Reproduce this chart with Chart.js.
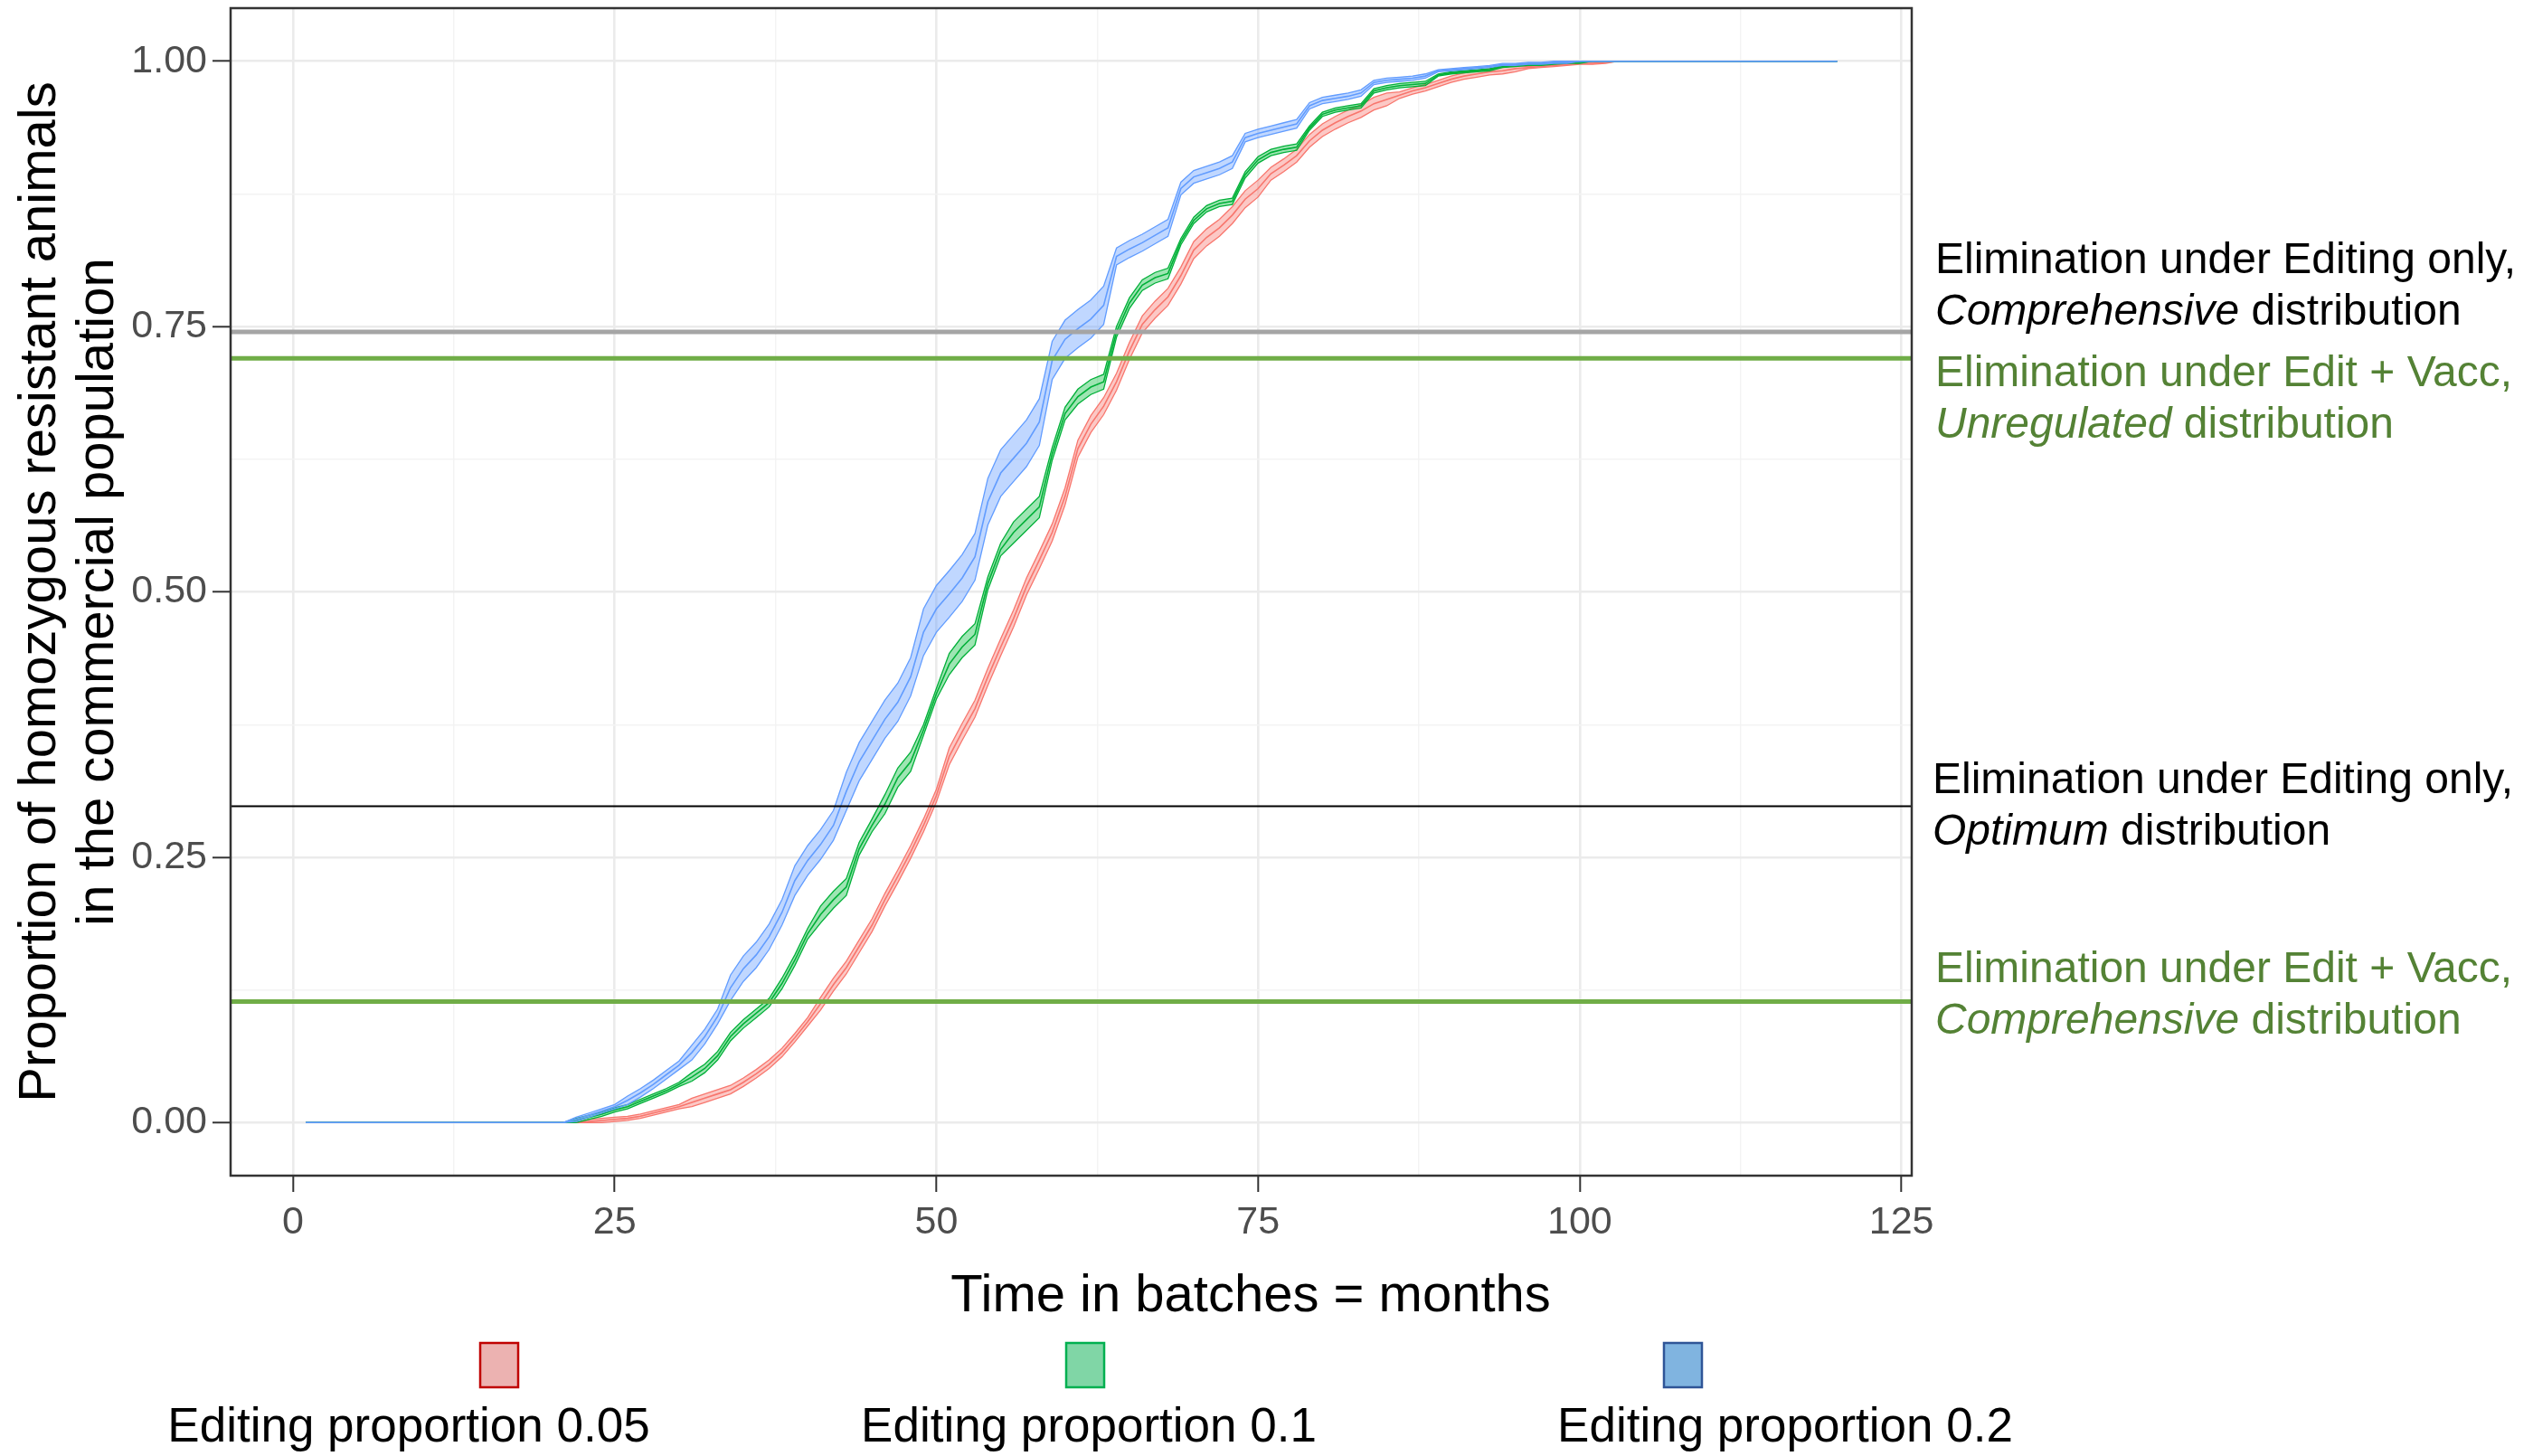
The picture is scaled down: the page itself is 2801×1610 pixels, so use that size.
<!DOCTYPE html>
<html>
<head>
<meta charset="utf-8">
<script src="https://cdn.jsdelivr.net/npm/chart.js@4.4.1/dist/chart.umd.min.js"></script>
<style>
html,body{margin:0;padding:0;background:#ffffff;}
canvas{display:block;}
</style>
</head>
<body>
<canvas id="chart" width="2801" height="1610" style="width:2801px;height:1610px"></canvas>
<script>
// ---------------- DATA ----------------
const batches = [1,
 20,21,22,23,24,25,26,27,28,29,
 30,31,32,33,34,35,36,37,38,39,
 40,41,42,43,44,45,46,47,48,49,
 50,51,52,53,54,55,56,57,58,59,
 60,61,62,63,64,65,66,67,68,69,
 70,71,72,73,74,75,76,77,78,79,
 80,81,82,83,84,85,86,87,88,89,
 90,91,92,93,94,95,96,97,98,99,
 100,101,102,103,104,
 120];

// Editing proportion 0.2 (blue)
const blueMean = [0,
 0,0,0.003,0.007,0.011,0.015,0.021,0.028,0.036,0.045,
 0.054,0.066,0.081,0.100,0.127,0.145,0.158,0.175,0.198,0.228,
 0.247,0.262,0.280,0.312,0.340,0.360,0.380,0.396,0.420,0.462,
 0.484,0.498,0.513,0.533,0.585,0.612,0.626,0.640,0.660,0.718,
 0.738,0.748,0.757,0.770,0.816,0.823,0.829,0.836,0.843,0.880,
 0.891,0.895,0.899,0.905,0.928,0.932,0.935,0.938,0.941,0.958,
 0.963,0.965,0.967,0.970,0.980,0.982,0.983,0.984,0.986,0.991,
 0.992,0.993,0.994,0.995,0.997,0.997,0.998,0.998,0.999,0.999,
 1,1,1,1,1,
 1];
const blueLow = [0,
 0,0,0.001,0.005,0.009,0.013,0.017,0.024,0.032,0.041,
 0.050,0.059,0.074,0.093,0.115,0.133,0.146,0.163,0.186,0.214,
 0.233,0.248,0.266,0.294,0.322,0.342,0.362,0.378,0.402,0.440,
 0.462,0.476,0.491,0.511,0.563,0.590,0.604,0.618,0.638,0.700,
 0.720,0.730,0.739,0.752,0.808,0.815,0.821,0.828,0.835,0.874,
 0.885,0.889,0.893,0.899,0.924,0.928,0.931,0.934,0.937,0.955,
 0.960,0.962,0.964,0.967,0.978,0.980,0.981,0.982,0.984,0.990,
 0.991,0.992,0.993,0.994,0.996,0.996,0.997,0.997,0.998,0.998,
 1,1,1,1,1,
 1];
const blueHigh = [0,
 0,0,0.005,0.009,0.013,0.017,0.025,0.032,0.040,0.049,
 0.058,0.073,0.088,0.107,0.139,0.157,0.170,0.187,0.210,0.242,
 0.261,0.276,0.294,0.330,0.358,0.378,0.398,0.414,0.438,0.484,
 0.506,0.520,0.535,0.555,0.607,0.634,0.648,0.662,0.682,0.736,
 0.756,0.766,0.775,0.788,0.824,0.831,0.837,0.844,0.851,0.886,
 0.897,0.901,0.905,0.911,0.932,0.936,0.939,0.942,0.945,0.961,
 0.966,0.968,0.970,0.973,0.982,0.984,0.985,0.986,0.988,0.992,
 0.993,0.994,0.995,0.996,0.998,0.998,0.999,0.999,1,1,
 1,1,1,1,1,
 1];

// Editing proportion 0.1 (green)
const greenMean = [0,
 0,0,0.002,0.005,0.008,0.012,0.015,0.020,0.025,0.030,
 0.036,0.043,0.051,0.063,0.081,0.093,0.103,0.113,0.131,0.153,
 0.178,0.196,0.210,0.222,0.258,0.280,0.300,0.325,0.340,0.370,
 0.404,0.432,0.448,0.460,0.508,0.540,0.556,0.568,0.580,0.630,
 0.668,0.684,0.693,0.698,0.745,0.772,0.789,0.796,0.800,0.830,
 0.850,0.861,0.866,0.868,0.893,0.907,0.914,0.917,0.919,0.937,
 0.950,0.954,0.956,0.958,0.972,0.975,0.977,0.978,0.979,0.987,
 0.989,0.990,0.991,0.992,0.995,0.996,0.997,0.997,0.998,0.999,
 0.999,1,1,1,1,
 1];
const greenLow = [0,
 0,0,0,0.003,0.006,0.010,0.013,0.018,0.023,0.028,
 0.034,0.039,0.047,0.059,0.077,0.089,0.099,0.109,0.126,0.148,
 0.173,0.188,0.202,0.214,0.252,0.274,0.291,0.316,0.331,0.365,
 0.399,0.422,0.438,0.450,0.502,0.534,0.546,0.558,0.570,0.624,
 0.662,0.677,0.686,0.691,0.740,0.767,0.784,0.791,0.795,0.827,
 0.847,0.858,0.863,0.865,0.890,0.904,0.911,0.914,0.916,0.935,
 0.948,0.952,0.954,0.956,0.970,0.973,0.975,0.976,0.977,0.986,
 0.988,0.989,0.990,0.991,0.994,0.995,0.996,0.996,0.997,0.998,
 0.998,1,1,1,1,
 1];
const greenHigh = [0,
 0,0,0.004,0.007,0.010,0.014,0.017,0.022,0.027,0.032,
 0.038,0.047,0.055,0.067,0.085,0.097,0.107,0.117,0.136,0.158,
 0.183,0.204,0.218,0.230,0.264,0.286,0.309,0.334,0.349,0.375,
 0.409,0.442,0.458,0.470,0.514,0.546,0.566,0.578,0.590,0.636,
 0.674,0.691,0.700,0.705,0.750,0.777,0.794,0.801,0.805,0.833,
 0.853,0.864,0.869,0.871,0.896,0.910,0.917,0.920,0.922,0.939,
 0.952,0.956,0.958,0.960,0.974,0.977,0.979,0.980,0.981,0.988,
 0.990,0.991,0.992,0.993,0.996,0.997,0.998,0.998,0.999,1,
 1,1,1,1,1,
 1];

// Editing proportion 0.05 (red)
const redMean = [0,
 0,0,0,0.001,0.002,0.003,0.004,0.006,0.009,0.012,
 0.015,0.019,0.023,0.027,0.031,0.038,0.046,0.055,0.066,0.080,
 0.095,0.112,0.130,0.146,0.166,0.186,0.210,0.232,0.255,0.280,
 0.308,0.345,0.368,0.390,0.420,0.448,0.475,0.505,0.530,0.556,
 0.590,0.635,0.658,0.675,0.698,0.727,0.752,0.766,0.778,0.798,
 0.822,0.834,0.843,0.855,0.870,0.880,0.894,0.902,0.911,0.925,
 0.935,0.942,0.948,0.953,0.960,0.964,0.968,0.972,0.975,0.979,
 0.983,0.986,0.988,0.990,0.991,0.993,0.994,0.995,0.996,0.997,
 0.998,0.998,0.999,1,1,
 1];
const redLow = [0,
 0,0,0,0,0,0.001,0.002,0.004,0.007,0.010,
 0.013,0.015,0.019,0.023,0.027,0.034,0.042,0.051,0.062,0.076,
 0.091,0.106,0.124,0.140,0.160,0.180,0.204,0.226,0.249,0.274,
 0.302,0.337,0.360,0.382,0.412,0.440,0.467,0.497,0.522,0.548,
 0.582,0.627,0.650,0.667,0.690,0.719,0.744,0.758,0.770,0.790,
 0.814,0.826,0.835,0.847,0.862,0.872,0.888,0.896,0.905,0.919,
 0.929,0.936,0.942,0.947,0.954,0.958,0.965,0.969,0.972,0.976,
 0.980,0.983,0.985,0.987,0.988,0.990,0.993,0.994,0.995,0.996,
 0.997,0.997,0.998,1,1,
 1];
const redHigh = [0,
 0,0,0,0.003,0.004,0.005,0.006,0.008,0.011,0.014,
 0.017,0.023,0.027,0.031,0.035,0.042,0.050,0.059,0.070,0.084,
 0.099,0.118,0.136,0.152,0.172,0.192,0.216,0.238,0.261,0.286,
 0.314,0.353,0.376,0.398,0.428,0.456,0.483,0.513,0.538,0.564,
 0.598,0.643,0.666,0.683,0.706,0.735,0.760,0.774,0.786,0.806,
 0.830,0.842,0.851,0.863,0.878,0.888,0.900,0.908,0.917,0.931,
 0.941,0.948,0.954,0.959,0.966,0.970,0.971,0.975,0.978,0.982,
 0.986,0.989,0.991,0.993,0.994,0.996,0.995,0.996,0.997,0.998,
 0.999,0.999,1,1,1,
 1];

// Horizontal elimination thresholds
const thresholdValues = [0.745, 0.72, 0.298, 0.114];
const thresholdColors = ['#A5A5A5', '#70AD47', '#000000', '#70AD47'];
const thresholdWidths = [5, 5, 2, 5];

// Axes
const xGridValues = [0, 12.5, 25, 37.5, 50, 62.5, 75, 87.5, 100, 112.5, 125];
const xTickLabels = ['0', '25', '50', '75', '100', '125'];
const xTickValues = [0, 25, 50, 75, 100, 125];
const yGridValues = [0, 0.125, 0.25, 0.375, 0.5, 0.625, 0.75, 0.875, 1];
const yTickValues = [0, 0.25, 0.5, 0.75, 1];
const yTickLabels = ['0.00', '0.25', '0.50', '0.75', '1.00'];
const xRange = [-4.85, 125.8];
const yRange = [-0.05, 1.05];

const xTitle = 'Time in batches = months';
const yTitleLines = ['Proportion of homozygous resistant animals', 'in the commercial population'];
const legendLabels = ['Editing proportion 0.05', 'Editing proportion 0.1', 'Editing proportion 0.2'];
const annotationTexts = [
  [[['Elimination under Editing only,', false]], [['Comprehensive', true], [' distribution', false]]],
  [[['Elimination under Edit + Vacc,', false]], [['Unregulated', true], [' distribution', false]]],
  [[['Elimination under Editing only,', false]], [['Optimum', true], [' distribution', false]]],
  [[['Elimination under Edit + Vacc,', false]], [['Comprehensive', true], [' distribution', false]]]
];

// ---------------- CHART ----------------
const FONT = '"Liberation Sans", Arial, Helvetica, sans-serif';
const pts = arr => batches.map((b, i) => ({x: b, y: arr[i]}));

const series = [
  {mean: blueMean, lo: blueLow, hi: blueHigh, line: '#619CFF', fill: 'rgba(97,156,255,0.40)'},
  {mean: greenMean, lo: greenLow, hi: greenHigh, line: '#00B038', fill: 'rgba(0,186,56,0.38)'},
  {mean: redMean, lo: redLow, hi: redHigh, line: '#F8766D', fill: 'rgba(248,118,109,0.40)'}
];

const datasets = [];
thresholdValues.forEach((v, i) => {
  datasets.push({
    data: [{x: xRange[0], y: v}, {x: xRange[1], y: v}],
    borderColor: thresholdColors[i], borderWidth: thresholdWidths[i],
    fill: false, order: 0, borderCapStyle: 'butt'
  });
});
series.forEach((s, k) => {
  datasets.push({data: pts(s.mean), borderColor: s.line, borderWidth: 1.6, fill: false, order: k + 1});
  const loIdx = datasets.length;
  datasets.push({data: pts(s.lo), borderColor: s.line, borderWidth: 1.3, fill: false, order: k + 1});
  datasets.push({data: pts(s.hi), borderColor: s.line, borderWidth: 1.3, backgroundColor: s.fill, fill: loIdx, order: k + 1});
});

const decorPlugin = {
  id: 'decor',
  afterDraw(chart) {
    const ctx = chart.ctx;
    const a = chart.chartArea;
    ctx.save();
    // panel border
    ctx.strokeStyle = '#333333';
    ctx.lineWidth = 2.5;
    ctx.strokeRect(a.left, a.top, a.right - a.left, a.bottom - a.top);

    // y title (two lines, rotated)
    ctx.fillStyle = '#000000';
    ctx.font = '58px ' + FONT;
    ctx.textAlign = 'center';
    ctx.textBaseline = 'middle';
    const yMid = (a.top + a.bottom) / 2;
    [45, 109].forEach((x, i) => {
      ctx.save();
      ctx.translate(x, yMid);
      ctx.rotate(-Math.PI / 2);
      ctx.fillText(yTitleLines[i], 0, 0);
      ctx.restore();
    });

    // x title
    ctx.fillText(xTitle, 1383, 1434);

    // right annotations
    const annPos = [[2140, 289], [2140, 414], [2137, 864], [2140, 1073]];
    const annColor = ['#000000', '#548235', '#000000', '#548235'];
    ctx.textAlign = 'left';
    annotationTexts.forEach((lines, i) => {
      ctx.fillStyle = annColor[i];
      lines.forEach((segs, j) => {
        let x = annPos[i][0];
        const y = annPos[i][1] + j * 57;
        segs.forEach(([t, it]) => {
          ctx.font = (it ? 'italic ' : '') + '48px ' + FONT;
          ctx.fillText(t, x, y);
          x += ctx.measureText(t).width;
        });
      });
    });

    // legend
    const rectX = [552, 1200, 1861];
    const labelX = [452, 1204, 1974];
    const rectFill = ['#ECB2B1', '#80D6A6', '#80B4E0'];
    const rectStroke = ['#C00000', '#00B050', '#2F5597'];
    legendLabels.forEach((lab, i) => {
      ctx.fillStyle = rectFill[i];
      ctx.fillRect(rectX[i] - 21, 1485, 42, 49);
      ctx.strokeStyle = rectStroke[i];
      ctx.lineWidth = 2.5;
      ctx.strokeRect(rectX[i] - 21, 1485, 42, 49);
      ctx.fillStyle = '#000000';
      ctx.font = '53px ' + FONT;
      ctx.textAlign = 'center';
      ctx.fillText(lab, labelX[i], 1579);
    });
    ctx.restore();
  }
};

new Chart(document.getElementById('chart').getContext('2d'), {
  type: 'line',
  data: {datasets},
  options: {
    responsive: false,
    maintainAspectRatio: false,
    devicePixelRatio: 1,
    animation: false,
    events: [],
    layout: {padding: {left: 0, top: 9, right: 687, bottom: 210}},
    plugins: {legend: {display: false}, tooltip: {enabled: false}},
    elements: {point: {radius: 0, hoverRadius: 0}, line: {tension: 0}},
    scales: {
      x: {
        type: 'linear', min: xRange[0], max: xRange[1],
        afterBuildTicks: s => { s.ticks = xGridValues.map(v => ({value: v})); },
        afterFit: s => { s.height = 100; s.paddingLeft = 0; s.paddingRight = 0; },
        border: {display: false},
        grid: {
          color: c => xTickValues.includes(c.tick && c.tick.value) ? '#EBEBEB' : '#F3F3F3',
          lineWidth: c => xTickValues.includes(c.tick && c.tick.value) ? 2.6 : 1.4,
          tickColor: c => xTickValues.includes(c.tick && c.tick.value) ? '#333333' : 'rgba(0,0,0,0)',
          tickLength: 18, tickWidth: 2, drawTicks: true
        },
        ticks: {
          autoSkip: false, maxRotation: 0, minRotation: 0, padding: 8,
          color: '#4D4D4D', font: {family: FONT, size: 43},
          callback: v => { const k = xTickValues.indexOf(v); return k >= 0 ? xTickLabels[k] : ''; }
        }
      },
      y: {
        type: 'linear', min: yRange[0], max: yRange[1],
        afterBuildTicks: s => { s.ticks = yGridValues.map(v => ({value: v})); },
        afterFit: s => { s.width = 255; s.paddingTop = 0; s.paddingBottom = 0; },
        border: {display: false},
        grid: {
          color: c => yTickValues.includes(c.tick && c.tick.value) ? '#EBEBEB' : '#F3F3F3',
          lineWidth: c => yTickValues.includes(c.tick && c.tick.value) ? 2.6 : 1.4,
          tickColor: c => yTickValues.includes(c.tick && c.tick.value) ? '#333333' : 'rgba(0,0,0,0)',
          tickLength: 20, tickWidth: 2, drawTicks: true
        },
        ticks: {
          autoSkip: false, padding: 6,
          color: '#4D4D4D', font: {family: FONT, size: 43},
          callback: v => { const k = yTickValues.indexOf(v); return k >= 0 ? yTickLabels[k] : ''; }
        }
      }
    }
  },
  plugins: [decorPlugin]
});
</script>
</body>
</html>
